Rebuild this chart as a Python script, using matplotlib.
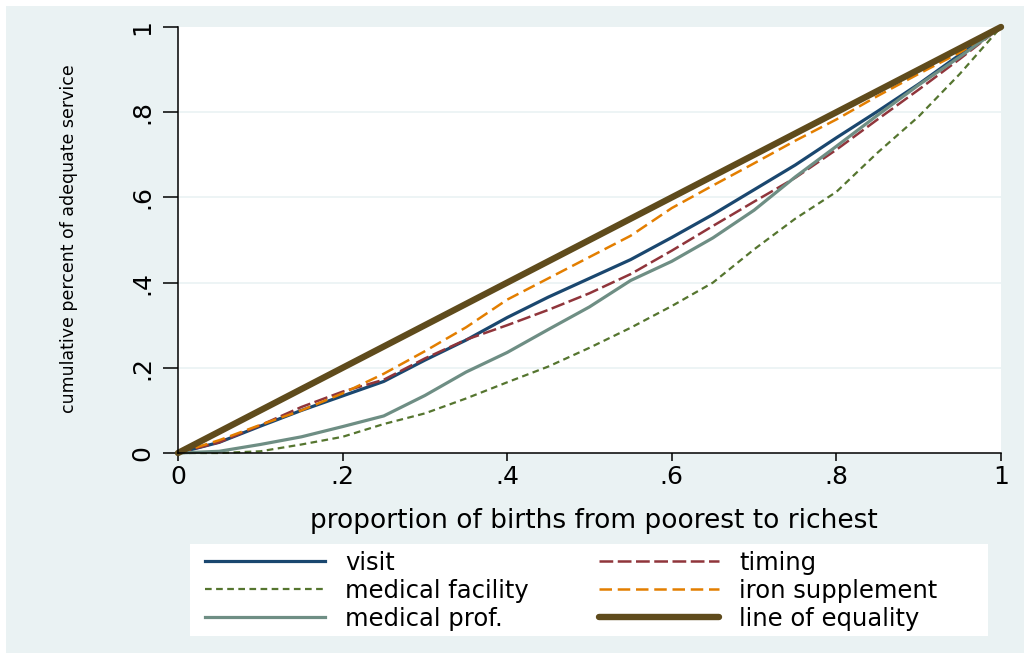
import matplotlib
matplotlib.use('Agg')
import matplotlib.pyplot as plt
from matplotlib.patches import Rectangle

# ---------------- data ----------------
share = [0, .05, .1, .15, .2, .25, .3, .35, .4, .45, .5,
         .55, .6, .65, .7, .75, .8, .85, .9, .95, 1]
visit = [0, 0.025, 0.063, 0.100, 0.134, 0.168, 0.218, 0.265, 0.318, 0.366, 0.410,
         0.454, 0.506, 0.560, 0.618, 0.676, 0.740, 0.802, 0.866, 0.935, 1]
timing = [0, 0.025, 0.065, 0.108, 0.144, 0.172, 0.222, 0.266, 0.300, 0.336, 0.375,
          0.420, 0.475, 0.533, 0.590, 0.646, 0.712, 0.783, 0.853, 0.925, 1]
med_facility = [0, 0, 0.004, 0.020, 0.038, 0.068, 0.093, 0.128, 0.166, 0.203, 0.247,
                0.294, 0.345, 0.400, 0.478, 0.550, 0.613, 0.705, 0.790, 0.890, 1]
iron = [0, 0.030, 0.066, 0.100, 0.140, 0.186, 0.239, 0.295, 0.360, 0.410, 0.460,
        0.510, 0.575, 0.628, 0.680, 0.733, 0.783, 0.838, 0.890, 0.940, 1]
med_prof = [0, 0.004, 0.020, 0.038, 0.062, 0.087, 0.135, 0.190, 0.236, 0.290, 0.343,
            0.405, 0.450, 0.505, 0.570, 0.648, 0.720, 0.793, 0.864, 0.930, 1]
equality_x = [0, 1]
equality_y = [0, 1]

ticks = [0, .2, .4, .6, .8, 1]
tick_labels = ['0', '.2', '.4', '.6', '.8', '1']
xlabel = 'proportion of births from poorest to richest'
ylabel = 'cumulative percent of adequate service'

# ---------------- figure ----------------
plt.rcParams['font.family'] = ['DejaVu Sans']
W, H = 1030, 659
fig = plt.figure(figsize=(W / 100, H / 100), dpi=100, facecolor='white')
fig.patches.append(Rectangle((6 / W, 6 / H), (W - 12) / W, (H - 12) / H,
                             transform=fig.transFigure, facecolor='#EAF2F3',
                             edgecolor='none', zorder=-10))

ax = fig.add_axes([178 / W, (H - 453) / H, 823 / W, 426 / H])
ax.set_facecolor('white')
ax.set_xlim(0, 1)
ax.set_ylim(0, 1)

for y in ticks[1:-1]:
    ax.axhline(y, color='#EAF2F3', lw=1.2, zorder=0)

h_visit, = ax.plot(share, visit, color='#1A476F', lw=2.3, clip_on=False, label='visit')
h_timing, = ax.plot(share, timing, color='#90353B', lw=1.8, clip_on=False,
                    dashes=(5.5, 1.8), label='timing')
h_fac, = ax.plot(share, med_facility, color='#55752F', lw=1.6, clip_on=False,
                 dashes=(3, 2.0), label='medical facility')
h_iron, = ax.plot(share, iron, color='#E37E00', lw=1.8, clip_on=False,
                  dashes=(5, 2.3), label='iron supplement')
h_prof, = ax.plot(share, med_prof, color='#6E8E84', lw=2.3, clip_on=False,
                  label='medical prof.')
h_eq, = ax.plot(equality_x, equality_y, color='#5F4B1C', lw=4.6, clip_on=False,
                solid_capstyle='round', label='line of equality')

for s in ['top', 'right']:
    ax.spines[s].set_visible(False)
for s in ['left', 'bottom']:
    ax.spines[s].set_color('black')
    ax.spines[s].set_linewidth(1.1)

ax.set_xticks(ticks)
ax.set_xticklabels(tick_labels, fontsize=18)
ax.set_yticks(ticks)
ax.set_yticklabels(tick_labels, fontsize=18, rotation=90, va='center')
ax.tick_params(axis='x', length=6, width=1.1, pad=3, colors='black')
ax.tick_params(axis='y', length=11, width=1.1, pad=6, colors='black')

ax.set_xlabel(xlabel, fontsize=19, va='center')
ax.xaxis.set_label_coords(0.505, (453 - 521) / 426)
ax.set_ylabel(ylabel, fontsize=12.5, va='center',
              family=['DejaVu Sans Condensed', 'DejaVu Sans'])
ax.yaxis.set_label_coords((69 - 178) / 823, (453 - 239) / 426)

# legend box
fig.patches.append(Rectangle((190 / W, (H - 636) / H), (988 - 190) / W, (636 - 544) / H,
                             transform=fig.transFigure, facecolor='white',
                             edgecolor='none', zorder=-5))
fs = 17.5
fpx = fs * 100 / 72
leg = ax.legend([h_visit, h_fac, h_prof, h_timing, h_iron, h_eq],
                ['visit', 'medical facility', 'medical prof.', 'timing',
                 'iron supplement', 'line of equality'],
                ncol=2, frameon=False, fontsize=fs, loc='upper left',
                bbox_to_anchor=(205 / W, (H - 551) / H),
                bbox_transform=fig.transFigure, borderpad=0, borderaxespad=0,
                handlelength=120 / fpx, handletextpad=20 / fpx,
                columnspacing=2.9, labelspacing=0.16)

fig.savefig('out.png', dpi=100, facecolor='white')
